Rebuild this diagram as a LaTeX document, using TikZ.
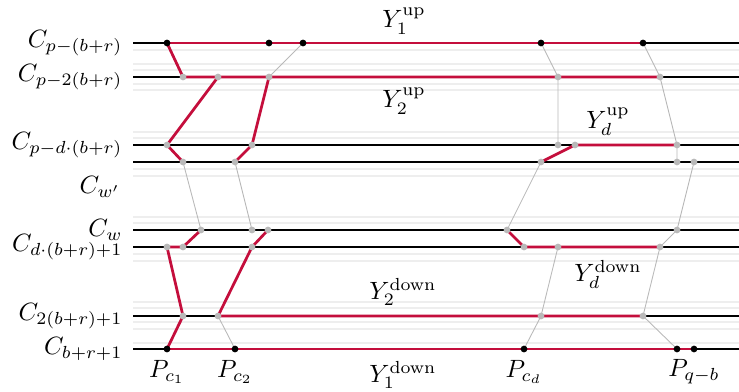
\documentclass[tikz,border=0pt]{standalone}
\definecolor{chainred}{RGB}{196,14,60}
\begin{document}
\begin{tikzpicture}[x=0.4pt,y=-0.4pt,
  level/.style={black,line width=0.45pt},
  faint/.style={gray!13,line width=0.6pt},
  chain/.style={chainred,line width=1.1pt},
  link/.style={gray!55,line width=0.35pt},
  bdot/.style={circle,fill=black,inner sep=0pt,minimum size=2.7pt},
  gdot/.style={circle,fill=gray!55,inner sep=0pt,minimum size=2.7pt}]
  \useasboundingbox (0,0) rectangle (739,392);
  \foreach \y in {50,64,70,84,90,132,138,169,176,217,223,254,261,302,308,322,329,343}
    \draw[faint] (133,\y) -- (739,\y);
  \foreach \y/\txt in {43/{C_{p-(b+r)}},77/{C_{p-2(b+r)}},145/{C_{p-d\cdot(b+r)}},
      230/{C_w},247/{C_{d\cdot(b+r)+1}},316/{C_{2(b+r)+1}},349/{C_{b+r+1}}} {
    \coordinate (l\y) at (133,\y);
    \coordinate (r\y) at (739,\y);
    \draw[level] (l\y) -- (r\y);
    \node[anchor=east,inner sep=0pt] (lab\y) at (123,\y) {$\txt$};
  }
  \coordinate (l162) at (133,162);
  \coordinate (r162) at (739,162);
  \draw[level] (l162) -- (r162);
  \node[anchor=east,inner sep=0pt] (labw) at (121,187) {$C_{w'}$};
  \foreach \n/\x/\y in {t1/167/43,t2/269/43,t3/303/43,t4/541/43,t5/643/43,
      a1/183/77,a2/218/77,a3/269/77,a4/558/77,a5/660/77,
      b1/167/145,b2/252/145,b3/558/145,b4/575/145,b5/677/145,
      c1/183/162,c2/235/162,c3/541/162,c4/677/162,c5/694/162,
      d1/201/230,d2/252/230,d3/268/230,d4/507/230,d5/677/230,
      e1/167/247,e2/183/247,e3/252/247,e4/524/247,e5/558/247,e6/660/247,
      f1/183/316,f2/218/316,f3/541/316,f4/643/316,
      g1/167/349,g2/235/349,g3/524/349,g4/677/349,g5/694/349}
    \coordinate (\n) at (\x,\y);
  \draw[link] (t3) -- (a3);
  \draw[link] (t4) -- (a4) -- (b3);
  \draw[link] (t5) -- (a5) -- (b5) -- (c4);
  \draw[link] (c5) -- (d5) -- (e6) -- (f4) -- (g4);
  \draw[link] (c3) -- (d4);
  \draw[link] (c1) -- (d1);
  \draw[link] (c2) -- (d2);
  \draw[link] (e5) -- (f3) -- (g3);
  \draw[link] (f2) -- (g2);
  \draw[chain] (t1) -- (t5);
  \draw[chain] (t1) -- (a1) -- (a5);
  \draw[chain] (a2) -- (b1) -- (c1);
  \draw[chain] (a3) -- (b2) -- (c2);
  \draw[chain] (c3) -- (b4) -- (b5);
  \draw[chain] (d1) -- (e2) -- (e1) -- (f1) -- (g1);
  \draw[chain] (d3) -- (e3) -- (f2) -- (f4);
  \draw[chain] (d4) -- (e4) -- (e6);
  \draw[chain] (g1) -- (g5);
  \foreach \n in {a1,a2,a3,a4,a5,b1,b2,b3,b4,b5,c1,c2,c3,c4,c5,
      d1,d2,d3,d4,d5,e1,e2,e3,e4,e5,e6,f1,f2,f3,f4}
    \node[gdot] (\n-dot) at (\n) {};
  \foreach \n in {t1,t2,t3,t4,t5,g1,g2,g3,g4,g5}
    \node[bdot] (\n-dot) at (\n) {};
  \node (yup1) at (404,21) {$Y_1^{\mathrm{up}}$};
  \node (yup2) at (404,101) {$Y_2^{\mathrm{up}}$};
  \node (yupd) at (608,122) {$Y_d^{\mathrm{up}}$};
  \node (ydown2) at (403,292) {$Y_2^{\mathrm{down}}$};
  \node (ydownd) at (608,274) {$Y_d^{\mathrm{down}}$};
  \node (ydown1) at (403,375) {$Y_1^{\mathrm{down}}$};
  \node (pc1) at (167,372) {$P_{c_1}$};
  \node (pc2) at (235,372) {$P_{c_2}$};
  \node (pcd) at (524,372) {$P_{c_d}$};
  \node (pqb) at (694,372) {$P_{q-b}$};
\end{tikzpicture}
\end{document}
